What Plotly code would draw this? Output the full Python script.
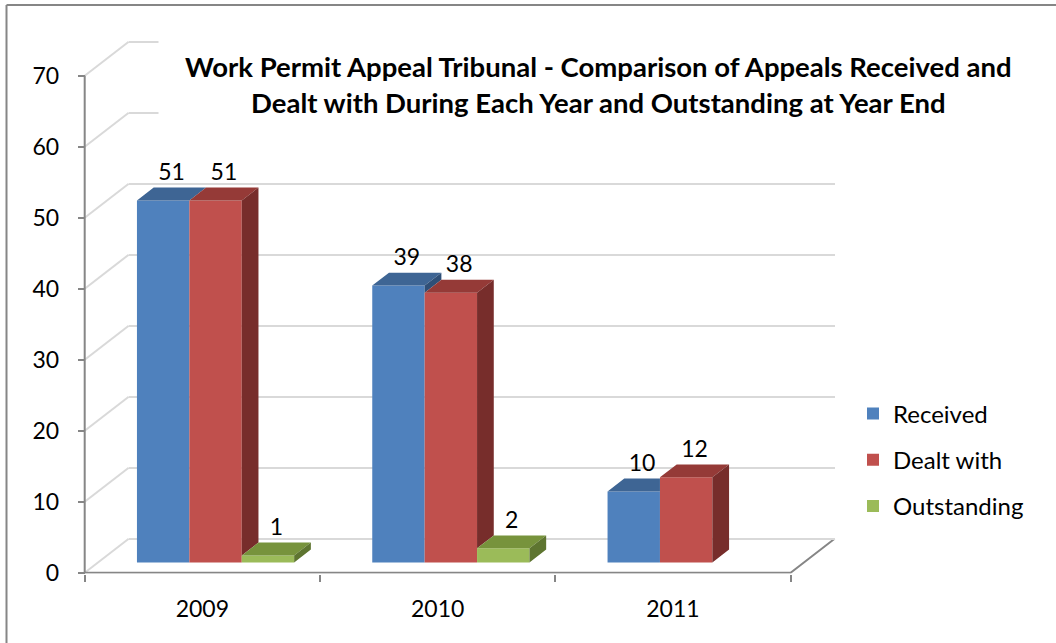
import plotly.graph_objects as go

# ---------------- data ----------------
years = ["2009", "2010", "2011"]
received = [51, 39, 10]
dealt_with = [51, 38, 12]
outstanding = [1, 2, None]
series_names = ["Received", "Dealt with", "Outstanding"]
y_ticks = [0, 10, 20, 30, 40, 50, 60, 70]
title_lines = [
    "Work Permit Appeal Tribunal - Comparison of Appeals Received and",
    "Dealt with During Each Year and Outstanding at Year End",
]

# ---------------- styling / geometry ----------------
W, H = 1056, 643
FONT = "Lato"
FS = 23
FRONT = ["#4F81BD", "#C0504D", "#9BBB59"]
TOP = ["#3E6594", "#953A37", "#77933C"]
SIDE = ["#2F4F77", "#772D2B", "#5E7530"]
GRID = "#D9D9D9"
AXIS = "#868686"

PX_X0 = 84.7    # pixel of the front-left corner of the category axis
CAT_PX = 235.3  # pixels per category
PX_Y0 = 572.7   # pixel of value 0 on the front axis
VAL_PX = 7.1    # pixels per value unit
WALL_DX = 44 / CAT_PX   # depth of the floor, in x units
WALL_DY = 34 / VAL_PX   # depth of the floor, in value units
F0, F1 = 0.30, 0.68     # bar front / back as fractions of depth
BAR_W = 52.4 / CAT_PX   # bar width in category units
LABEL_PAD = 0.25        # gap between bar top and its label, value units


def px_to_x(p):
    return (p - PX_X0) / CAT_PX - 0.5


def x_to_px(x):
    return PX_X0 + (x + 0.5) * CAT_PX


def px_to_v(p):
    return (PX_Y0 - p) / VAL_PX


A_L, A_R, A_T, A_B = 76, 842, 36, 573.6
x_lo, x_hi = -0.5, len(years) - 0.5

fig = go.Figure()

# ---- subplot A: front axis, left wall, floor edges ----
dx, dy = [], []
for v in y_ticks:
    dx += [x_lo, x_lo + WALL_DX, None]
    dy += [v, v + WALL_DY, None]
fig.add_trace(go.Scatter(x=dx, y=dy, mode="lines", line=dict(color=GRID, width=2),
                         showlegend=False, hoverinfo="skip", xaxis="x", yaxis="y"))
fig.add_trace(go.Scatter(x=[x_lo, x_lo], y=[0, max(y_ticks)], mode="lines",
                         line=dict(color=AXIS, width=2), showlegend=False,
                         hoverinfo="skip", xaxis="x", yaxis="y"))
fig.add_trace(go.Scatter(x=[x_lo, x_hi, x_hi + WALL_DX], y=[0, 0, WALL_DY], mode="lines",
                         line=dict(color=AXIS, width=2), showlegend=False,
                         hoverinfo="skip", xaxis="x", yaxis="y"))


# ---- subplot B: back wall (grid) and the 3-D bars ----
def proj(x, v, f):
    return x + f * WALL_DX, v + f * WALL_DY - WALL_DY


all_series = [received, dealt_with, outstanding]
ns = len(all_series)

for s, vals in enumerate(all_series):
    xs = [i + (s - (ns - 1) / 2) * BAR_W + F0 * WALL_DX for i in range(len(years))]
    fig.add_trace(go.Bar(
        x=xs, y=vals, base=-(1 - F0) * WALL_DY, width=BAR_W,
        marker=dict(color=FRONT[s], line=dict(width=0)),
        name=series_names[s], legendgroup=series_names[s],
        xaxis="x2", yaxis="y2", hoverinfo="skip",
    ))

for s, vals in enumerate(all_series):
    tx, ty, sx, sy = [], [], [], []
    for i, h in enumerate(vals):
        if h is None:
            continue
        xl = i + (s - ns / 2) * BAR_W
        xr = xl + BAR_W
        hn = all_series[s + 1][i] if s + 1 < ns else None
        A = proj(xl, h, F0)
        B = proj(xr, h, F0)
        C = proj(xr, h, F1)
        D = proj(xl, h, F1)
        if hn is None or hn <= h:
            pts = [A, B, C, D]
        else:
            t = (hn - h) / ((F1 - F0) * WALL_DY)
            if t >= 1:
                pts = [A, B, (B[0], C[1]), D]
            else:
                yy = B[1] + t * (C[1] - B[1])
                pts = [A, B, (B[0], yy), (B[0] + t * (C[0] - B[0]), yy), C, D]
        for p in pts + [pts[0]]:
            tx.append(p[0]); ty.append(p[1])
        tx.append(None); ty.append(None)
        lo = hn if (hn is not None and hn > 0) else 0
        if lo < h:
            side = [proj(xr, lo, F0), proj(xr, lo, F1), proj(xr, h, F1), proj(xr, h, F0)]
            for p in side + [side[0]]:
                sx.append(p[0]); sy.append(p[1])
            sx.append(None); sy.append(None)
    fig.add_trace(go.Scatter(x=tx, y=ty, mode="lines", fill="toself", fillcolor=TOP[s],
                             line=dict(width=0, color=TOP[s]), showlegend=False,
                             hoverinfo="skip", xaxis="x2", yaxis="y2"))
    if sx:
        fig.add_trace(go.Scatter(x=sx, y=sy, mode="lines", fill="toself", fillcolor=SIDE[s],
                                 line=dict(width=0, color=SIDE[s]), showlegend=False,
                                 hoverinfo="skip", xaxis="x2", yaxis="y2"))

# data labels
lx, ly, lt = [], [], []
for s, vals in enumerate(all_series):
    for i, h in enumerate(vals):
        if h is None:
            continue
        xc = i + (s - (ns - 1) / 2) * BAR_W + (F0 + F1) / 2 * WALL_DX
        lx.append(xc)
        ly.append(h + F1 * WALL_DY - WALL_DY + LABEL_PAD)
        lt.append(str(h))
fig.add_trace(go.Scatter(x=lx, y=ly, text=lt, mode="text", textposition="top center",
                         textfont=dict(family=FONT, size=FS, color="black"),
                         showlegend=False, hoverinfo="skip", cliponaxis=False,
                         xaxis="x2", yaxis="y2"))

# ---------------- layout ----------------
yA = [px_to_v(A_B), px_to_v(A_T)]
B_L = x_to_px(x_lo + WALL_DX)
B_R = x_to_px(x_hi + WALL_DX)

fig.update_layout(
    width=W, height=H, autosize=False,
    margin=dict(l=0, r=0, t=0, b=0, pad=0),
    paper_bgcolor="white", plot_bgcolor="rgba(0,0,0,0)",
    barmode="overlay", hovermode=False,
    font=dict(family=FONT, size=FS, color="black"),
    xaxis=dict(domain=[A_L / W, A_R / W], range=[px_to_x(A_L), px_to_x(A_R)],
               automargin=False,
               tickmode="array", tickvals=list(range(len(years))), ticktext=years,
               ticks="", showgrid=False, zeroline=False, showline=False,
               ticklabelstandoff=19, tickfont=dict(family=FONT, size=FS, color="black"),
               minor=dict(tickmode="array", tickvals=[x_lo + k for k in range(len(years) + 1)],
                          ticks="outside", ticklen=7, tickwidth=2, tickcolor=AXIS,
                          showgrid=False),
               fixedrange=True),
    yaxis=dict(domain=[1 - A_B / H, 1 - A_T / H], range=yA, anchor="free",
               automargin=False,
               position=PX_X0 / W, tickmode="array", tickvals=y_ticks,
               ticks="outside", ticklen=7, tickwidth=2, tickcolor=AXIS,
               showgrid=False, zeroline=False, showline=False,
               ticklabelstandoff=14, tickfont=dict(family=FONT, size=FS, color="black"),
               fixedrange=True),
    xaxis2=dict(domain=[B_L / W, B_R / W], range=[x_lo + WALL_DX, x_hi + WALL_DX],
                anchor="y2", visible=False, automargin=False, fixedrange=True),
    yaxis2=dict(domain=[1 - A_B / H, 1 - A_T / H], range=[yA[0] - WALL_DY, yA[1] - WALL_DY],
                anchor="x2", automargin=False, tickmode="array", tickvals=y_ticks,
                showticklabels=False,
                ticks="", showgrid=True, gridcolor=GRID, gridwidth=2,
                zeroline=False, showline=False, fixedrange=True),
    legend=dict(x=853 / W, y=1 - 391.5 / H, xanchor="left", yanchor="top",
                font=dict(family=FONT, size=24, color="black"),
                tracegroupgap=12, traceorder="grouped", bgcolor="rgba(0,0,0,0)"),
    shapes=[
        dict(type="line", xref="paper", yref="paper", x0=6.5 / W, x1=1, y0=1 - 5 / H, y1=1 - 5 / H,
             line=dict(color=AXIS, width=2), layer="below"),
        dict(type="line", xref="paper", yref="paper", x0=6.5 / W, x1=6.5 / W, y0=1 - 5 / H, y1=0,
             line=dict(color=AXIS, width=2), layer="below"),
    ],
    annotations=[dict(text="<b>" + "<br>".join(title_lines) + "</b>",
                      x=598.5 / W, y=1 - 85 / H, xref="paper", yref="paper",
                      xanchor="center", yanchor="middle", showarrow=False,
                      font=dict(family=FONT, size=27.5, color="black"),
                      bgcolor="white", borderpad=26)],
)

fig.write_html(
    "out.html",
    config={"displayModeBar": False, "staticPlot": True},
    post_script="document.body.style.margin='0';document.body.style.overflow='hidden';",
)
